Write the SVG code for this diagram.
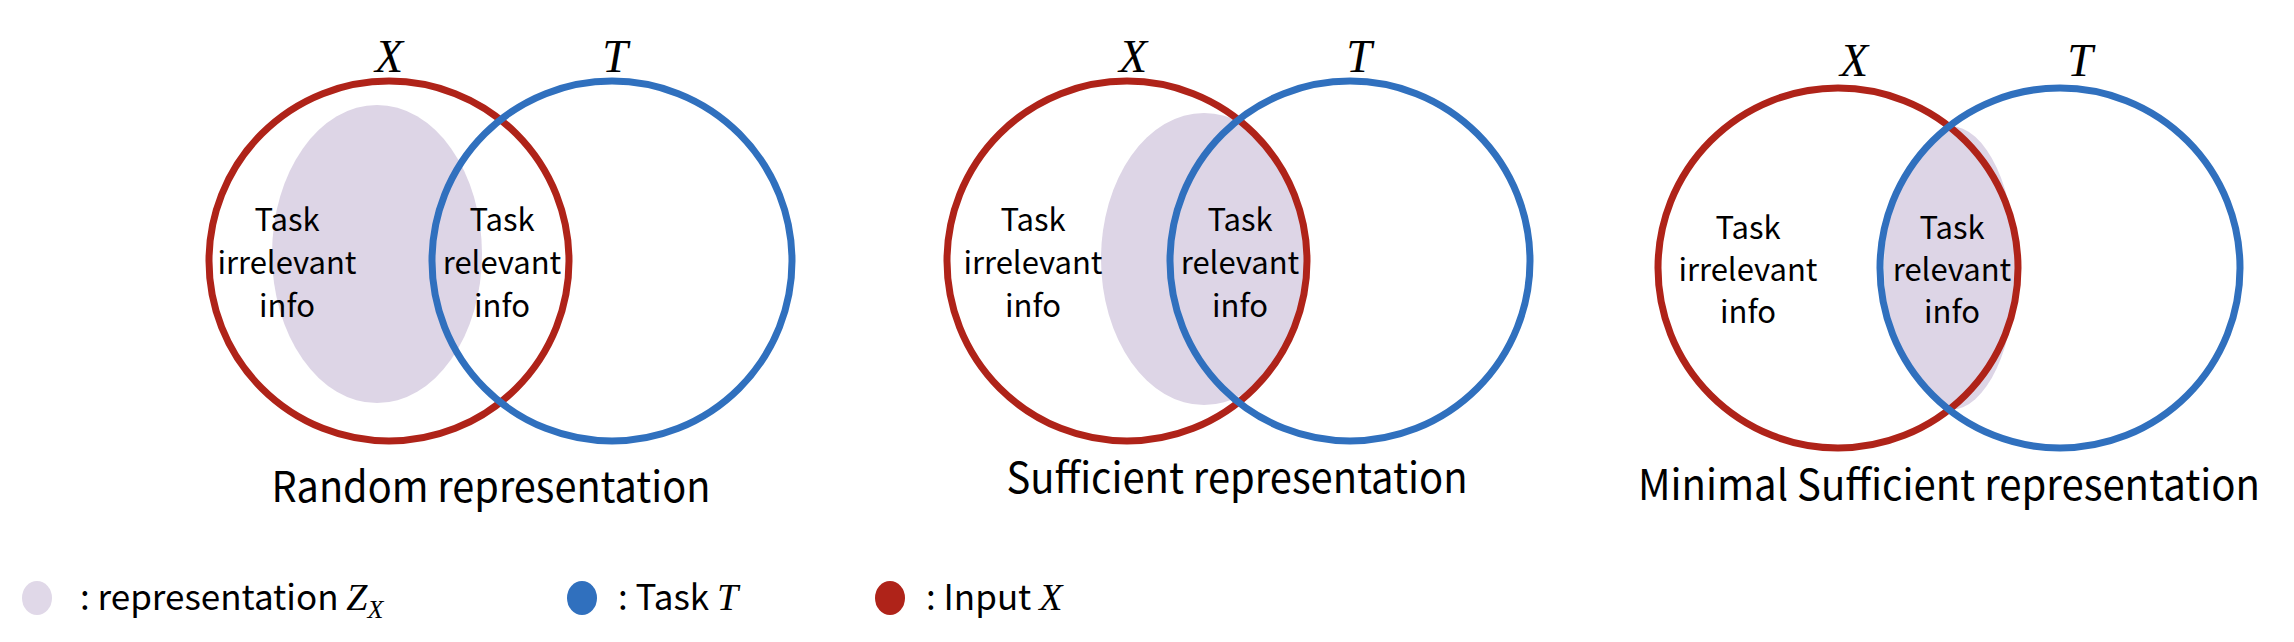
<svg xmlns="http://www.w3.org/2000/svg" width="2294" height="642" viewBox="0 0 2294 642">
<style>
.bg{fill:#ffffff}
.rx{fill:none;stroke:#AF2319;stroke-width:7}
.bt{fill:none;stroke:#3070BE;stroke-width:7}
.rep{fill:#DDD5E6}
.lbl{font-family:"Noto Sans CJK KR","Noto Sans",sans-serif;font-size:31px;fill:#000;text-anchor:middle}
.title{font-family:"Noto Sans CJK KR","Noto Sans",sans-serif;font-size:42px;fill:#000;text-anchor:middle}
.math{font-family:"Liberation Serif","DejaVu Serif",serif;font-style:italic;font-size:46px;fill:#000;text-anchor:middle}
.leg{font-family:"Noto Sans CJK KR","Noto Sans",sans-serif;font-size:35px;fill:#000}
.legm{font-family:"Liberation Serif","DejaVu Serif",serif;font-style:italic}
</style>
<defs>
<clipPath id="clipX2"><circle cx="1127" cy="261" r="180"/></clipPath>
<clipPath id="clipT3"><circle cx="2060" cy="268" r="180"/></clipPath>
</defs>
<rect class="bg" x="0" y="0" width="2294" height="642"/>

<g id="panel-random">
  <ellipse class="rep" cx="377" cy="254" rx="105" ry="149"/>
  <g id="p1-X"><circle class="rx" cx="389" cy="261" r="180"/><text class="math" x="389" y="72">X</text></g>
  <g id="p1-T"><circle class="bt" cx="612" cy="261" r="180"/><text class="math" x="615" y="72">T</text></g>
  <g id="p1-irr">
    <text class="lbl" x="287" y="231">Task</text>
    <text class="lbl" x="287" y="274">irrelevant</text>
    <text class="lbl" x="287" y="317">info</text>
  </g>
  <g id="p1-rel">
    <text class="lbl" x="502" y="231">Task</text>
    <text class="lbl" x="502" y="274">relevant</text>
    <text class="lbl" x="502" y="317">info</text>
  </g>
  <text class="title" x="491" y="502" textLength="439" lengthAdjust="spacingAndGlyphs">Random representation</text>
</g>

<g id="panel-sufficient">
  <ellipse class="rep" cx="1204" cy="259" rx="103" ry="146" clip-path="url(#clipX2)"/>
  <g id="p2-X"><circle class="rx" cx="1127" cy="261" r="180"/><text class="math" x="1133" y="72">X</text></g>
  <g id="p2-T"><circle class="bt" cx="1350" cy="261" r="180"/><text class="math" x="1359" y="72">T</text></g>
  <g id="p2-irr">
    <text class="lbl" x="1033" y="231">Task</text>
    <text class="lbl" x="1033" y="274">irrelevant</text>
    <text class="lbl" x="1033" y="317">info</text>
  </g>
  <g id="p2-rel">
    <text class="lbl" x="1240" y="231">Task</text>
    <text class="lbl" x="1240" y="274">relevant</text>
    <text class="lbl" x="1240" y="317">info</text>
  </g>
  <text class="title" x="1237" y="493" textLength="461" lengthAdjust="spacingAndGlyphs">Sufficient representation</text>
</g>

<g id="panel-minimal">
  <ellipse class="rep" cx="1950" cy="268" rx="66" ry="142" clip-path="url(#clipT3)"/>
  <g id="p3-X"><circle class="rx" cx="1838" cy="268" r="180"/><text class="math" x="1854" y="76">X</text></g>
  <g id="p3-T"><circle class="bt" cx="2060" cy="268" r="180"/><text class="math" x="2080" y="76">T</text></g>
  <g id="p3-irr">
    <text class="lbl" x="1748" y="239">Task</text>
    <text class="lbl" x="1748" y="281">irrelevant</text>
    <text class="lbl" x="1748" y="323">info</text>
  </g>
  <g id="p3-rel">
    <text class="lbl" x="1952" y="239">Task</text>
    <text class="lbl" x="1952" y="281">relevant</text>
    <text class="lbl" x="1952" y="323">info</text>
  </g>
  <text class="title" x="1949" y="500" textLength="622" lengthAdjust="spacingAndGlyphs">Minimal Sufficient representation</text>
</g>

<g id="legend">
  <g id="leg-rep"><ellipse cx="37" cy="598" rx="15" ry="17" fill="#E0D8E8"/><text class="leg" x="80" y="610">: representation <tspan class="legm" font-size="38">Z</tspan><tspan class="legm" font-size="26" dy="8">X</tspan></text></g>
  <g id="leg-task"><ellipse cx="582" cy="598" rx="15" ry="17" fill="#3070BE"/><text class="leg" x="618" y="610">: Task <tspan class="legm" font-size="38">T</tspan></text></g>
  <g id="leg-input"><ellipse cx="890" cy="598" rx="15" ry="17" fill="#AF2319"/><text class="leg" x="926" y="610">: Input <tspan class="legm" font-size="38">X</tspan></text></g>
</g>
</svg>
